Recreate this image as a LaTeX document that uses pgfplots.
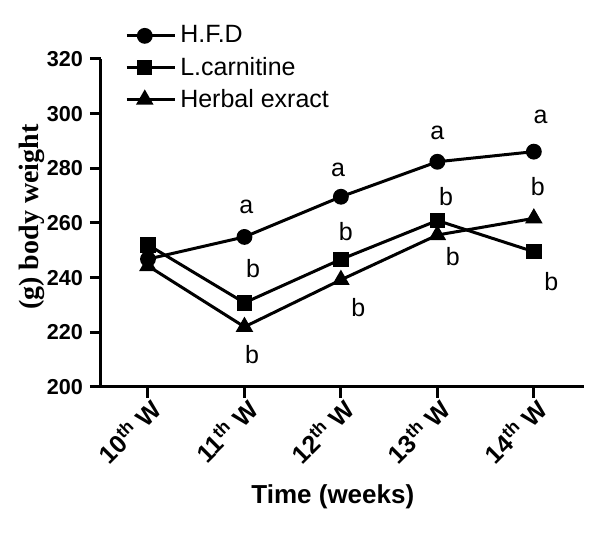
\documentclass[border=0pt]{standalone}
\usepackage{pgfplots}
\pgfplotsset{compat=1.18}
\usepackage{fontspec}
\setmainfont{Liberation Sans}
\newfontfamily\timesfont{Liberation Serif}

\begin{document}
\begin{tikzpicture}[x=1pt,y=1pt]
\begin{axis}[
    width=241.5pt, height=164pt,
    scale only axis,
    xmin=-0.487, xmax=4.52,
    ymin=200, ymax=320,
    axis x line*=bottom, axis y line*=left,
    axis line style={line width=1.5pt,-},
    xtick={0,1,2,3,4},
    xticklabels={10\textsuperscript{th} W,11\textsuperscript{th} W,12\textsuperscript{th} W,13\textsuperscript{th} W,14\textsuperscript{th} W},
    ytick={200,220,...,320},
    tick align=outside,
    major tick length=5.5pt,
    tick style={line width=1.5pt,black},
    /pgf/number format/assume math mode=true,
    /pgf/number format/1000 sep={},
    yticklabel style={font=\bfseries\fontsize{10.8}{12}\selectfont, xshift=0pt},
    xticklabel style={font=\bfseries\fontsize{12.5}{14}\selectfont, rotate=45, anchor=east, yshift=-5pt, xshift=4pt},
    xlabel={\bfseries Time (weeks)},
    xlabel style={font=\fontsize{13}{15}\selectfont, at={(axis description cs:0.48,-0.335)}, anchor=center},
    ylabel={\timesfont\bfseries (g) body weight},
    ylabel style={font=\fontsize{14}{16}\selectfont, at={(axis description cs:-0.143,0.518)}, anchor=center},
    legend style={at={(axis description cs:0.037,1.127)}, anchor=north west, draw=none, fill=none,
        font=\fontsize{12.5}{14}\selectfont, row sep=1.5pt},
    legend cell align=left,
    legend image code/.code={
        \draw[mark repeat=2,mark phase=2,#1] plot coordinates {(0pt,0pt) (9pt,0pt) (18pt,0pt)};
        \path (0pt,0pt) -- (24pt,0pt);
    },
    every axis plot/.append style={line width=1.5pt, black},
    clip=false,
]
\addplot[mark=*, mark size=3.2pt] coordinates {
    (0,246.8) (1,254.9) (2,269.6) (3,282.4) (4,286.1)
};
\addlegendentry{H.F.D}
\addplot[mark=square*, mark size=3.1pt] coordinates {
    (0,252.0) (1,230.8) (2,246.7) (3,260.9) (4,249.5)
};
\addlegendentry{L.carnitine}
\addplot[mark=triangle*, mark size=3.6pt] coordinates {
    (0,244.3) (1,222.0) (2,239.2) (3,255.6) (4,261.7)
};
\addlegendentry{Herbal exract}

\begin{scope}[every node/.style={font=\fontsize{12.5}{14}\selectfont}]
\node at (axis cs:1.02,266) {a};
\node at (axis cs:1.09,243.5) {b};
\node at (axis cs:1.08,211.7) {b};
\node at (axis cs:1.97,279.4) {a};
\node at (axis cs:2.05,256.7) {b};
\node at (axis cs:2.18,228.9) {b};
\node at (axis cs:3.0,293) {a};
\node at (axis cs:3.09,269.5) {b};
\node at (axis cs:3.16,247.6) {b};
\node at (axis cs:4.07,298.8) {a};
\node at (axis cs:4.04,273.5) {b};
\node at (axis cs:4.18,238.4) {b};
\end{scope}
\end{axis}
\pgfresetboundingbox
\path[use as bounding box] (-50.5pt,-73pt) rectangle (249.5pt,193.5pt);
\end{tikzpicture}
\end{document}
